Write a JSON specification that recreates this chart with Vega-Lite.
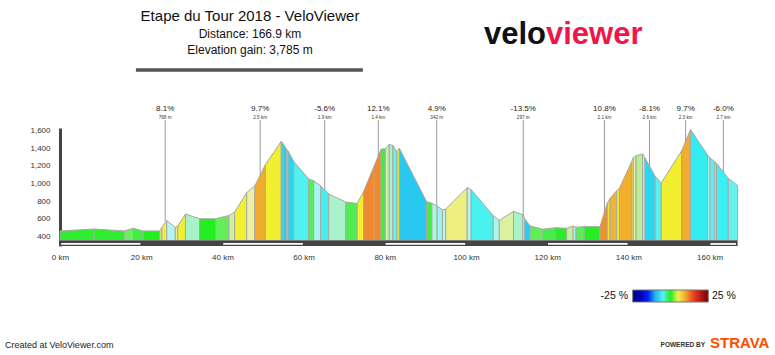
{
  "$schema": "https://vega.github.io/schema/vega-lite/v6.json",
  "width": 677.6,
  "height": 117.9,
  "autosize": "none",
  "padding": {"left": 60, "top": 128, "right": 37.4, "bottom": 109.1},
  "background": "white",
  "config": {
    "font": "Liberation Sans",
    "view": {"stroke": null},
    "legend": {"padding": 0, "offset": 0}
  },
  "resolve": {"axis": {"x": "independent", "y": "independent"}},
  "datasets": {
    "profile": [
      {"seg":1,"km":0,"elev":460,"grade":0.2},{"seg":1,"km":8.4,"elev":482,"grade":0.2},
      {"seg":2,"km":8.4,"elev":482,"grade":-0.2},{"seg":2,"km":15.8,"elev":460,"grade":-0.2},
      {"seg":3,"km":15.8,"elev":460,"grade":1.3},{"seg":3,"km":18.1,"elev":490,"grade":1.3},
      {"seg":4,"km":18.1,"elev":490,"grade":-0.5},{"seg":4,"km":20.5,"elev":460,"grade":-0.5},
      {"seg":5,"km":20.5,"elev":460,"grade":0},{"seg":5,"km":24.6,"elev":460,"grade":0},
      {"seg":6,"km":24.6,"elev":460,"grade":3.3},{"seg":6,"km":25.1,"elev":502,"grade":3.3},
      {"seg":7,"km":25.1,"elev":502,"grade":6.5},{"seg":7,"km":26.3,"elev":577,"grade":6.5},
      {"seg":8,"km":26.3,"elev":577,"grade":-3},{"seg":8,"km":28.4,"elev":502,"grade":-3},
      {"seg":9,"km":28.4,"elev":502,"grade":4.2},{"seg":9,"km":29.0,"elev":517,"grade":4.2},
      {"seg":10,"km":29.0,"elev":517,"grade":6.5},{"seg":10,"km":30.9,"elev":652,"grade":6.5},
      {"seg":11,"km":30.9,"elev":652,"grade":-1.8},{"seg":11,"km":34.4,"elev":600,"grade":-1.8},
      {"seg":12,"km":34.4,"elev":600,"grade":0},{"seg":12,"km":38.3,"elev":598,"grade":0},
      {"seg":13,"km":38.3,"elev":598,"grade":1.1},{"seg":13,"km":41.6,"elev":636,"grade":1.1},
      {"seg":14,"km":41.6,"elev":636,"grade":2.6},{"seg":14,"km":43.0,"elev":674,"grade":2.6},
      {"seg":15,"km":43.0,"elev":674,"grade":7},{"seg":15,"km":46.0,"elev":897,"grade":7},
      {"seg":16,"km":46.0,"elev":897,"grade":3.8},{"seg":16,"km":48.0,"elev":973,"grade":3.8},
      {"seg":17,"km":48.0,"elev":973,"grade":9.7},{"seg":17,"km":50.6,"elev":1214,"grade":9.7},
      {"seg":18,"km":50.6,"elev":1214,"grade":6.6},{"seg":18,"km":54.5,"elev":1479,"grade":6.6},
      {"seg":19,"km":54.5,"elev":1479,"grade":-7},{"seg":19,"km":55.0,"elev":1448,"grade":-7},
      {"seg":20,"km":55.0,"elev":1448,"grade":-9},{"seg":20,"km":55.8,"elev":1388,"grade":-9},
      {"seg":21,"km":55.8,"elev":1388,"grade":-4},{"seg":21,"km":56.2,"elev":1369,"grade":-4},
      {"seg":22,"km":56.2,"elev":1369,"grade":-8},{"seg":22,"km":57.6,"elev":1247,"grade":-8},
      {"seg":23,"km":57.6,"elev":1247,"grade":-5.2},{"seg":23,"km":61.3,"elev":1049,"grade":-5.2},
      {"seg":24,"km":61.3,"elev":1049,"grade":-0.8},{"seg":24,"km":62.5,"elev":1030,"grade":-0.8},
      {"seg":25,"km":62.5,"elev":1030,"grade":-3.3},{"seg":25,"km":64.2,"elev":973,"grade":-3.3},
      {"seg":26,"km":64.2,"elev":973,"grade":-5.6},{"seg":26,"km":66.2,"elev":880,"grade":-5.6},
      {"seg":27,"km":66.2,"elev":880,"grade":-1.9},{"seg":27,"km":70.4,"elev":788,"grade":-1.9},
      {"seg":28,"km":70.4,"elev":788,"grade":-0.7},{"seg":28,"km":73.2,"elev":772,"grade":-0.7},
      {"seg":29,"km":73.2,"elev":772,"grade":5.8},{"seg":29,"km":74.8,"elev":910,"grade":5.8},
      {"seg":30,"km":74.8,"elev":910,"grade":12.1},{"seg":30,"km":77.3,"elev":1190,"grade":12.1},
      {"seg":31,"km":77.3,"elev":1190,"grade":11.8},{"seg":31,"km":79.1,"elev":1390,"grade":11.8},
      {"seg":32,"km":79.1,"elev":1390,"grade":0.4},{"seg":32,"km":80.1,"elev":1395,"grade":0.4},
      {"seg":33,"km":80.1,"elev":1395,"grade":2.5},{"seg":33,"km":81.1,"elev":1444,"grade":2.5},
      {"seg":34,"km":81.1,"elev":1444,"grade":-1.8},{"seg":34,"km":82.0,"elev":1430,"grade":-1.8},
      {"seg":35,"km":82.0,"elev":1430,"grade":-4.5},{"seg":35,"km":83.0,"elev":1361,"grade":-4.5},
      {"seg":36,"km":83.0,"elev":1361,"grade":6},{"seg":36,"km":83.6,"elev":1399,"grade":6},
      {"seg":37,"km":83.6,"elev":1399,"grade":-9.2},{"seg":37,"km":90.3,"elev":793,"grade":-9.2},
      {"seg":38,"km":90.3,"elev":793,"grade":-0.5},{"seg":38,"km":91.6,"elev":775,"grade":-0.5},
      {"seg":39,"km":91.6,"elev":775,"grade":-2.5},{"seg":39,"km":92.9,"elev":744,"grade":-2.5},
      {"seg":40,"km":92.9,"elev":744,"grade":-3.5},{"seg":40,"km":94.2,"elev":700,"grade":-3.5},
      {"seg":41,"km":94.2,"elev":700,"grade":-3},{"seg":41,"km":95.0,"elev":708,"grade":-3},
      {"seg":42,"km":95.0,"elev":708,"grade":4.3},{"seg":42,"km":100.3,"elev":954,"grade":4.3},
      {"seg":43,"km":100.3,"elev":954,"grade":-3},{"seg":43,"km":101.3,"elev":928,"grade":-3},
      {"seg":44,"km":101.3,"elev":928,"grade":-5.4},{"seg":44,"km":106.7,"elev":634,"grade":-5.4},
      {"seg":45,"km":106.7,"elev":634,"grade":-3.2},{"seg":45,"km":108.2,"elev":580,"grade":-3.2},
      {"seg":46,"km":108.2,"elev":580,"grade":3.2},{"seg":46,"km":111.7,"elev":683,"grade":3.2},
      {"seg":47,"km":111.7,"elev":683,"grade":-1.8},{"seg":47,"km":114.0,"elev":645,"grade":-1.8},
      {"seg":48,"km":114.0,"elev":645,"grade":-3},{"seg":48,"km":114.5,"elev":595,"grade":-3},
      {"seg":49,"km":114.5,"elev":595,"grade":-9},{"seg":49,"km":115.8,"elev":517,"grade":-9},
      {"seg":50,"km":115.8,"elev":517,"grade":1},{"seg":50,"km":119.0,"elev":480,"grade":1},
      {"seg":51,"km":119.0,"elev":480,"grade":0.6},{"seg":51,"km":122.1,"elev":497,"grade":0.6},
      {"seg":52,"km":122.1,"elev":497,"grade":0.1},{"seg":52,"km":124.8,"elev":490,"grade":0.1},
      {"seg":53,"km":124.8,"elev":490,"grade":2.4},{"seg":53,"km":126.4,"elev":516,"grade":2.4},
      {"seg":54,"km":126.4,"elev":516,"grade":-3},{"seg":54,"km":127.1,"elev":502,"grade":-3},
      {"seg":55,"km":127.1,"elev":502,"grade":0.9},{"seg":55,"km":129.1,"elev":509,"grade":0.9},
      {"seg":56,"km":129.1,"elev":509,"grade":0},{"seg":56,"km":133.0,"elev":509,"grade":0},
      {"seg":57,"km":133.0,"elev":509,"grade":11.5},{"seg":57,"km":134.8,"elev":775,"grade":11.5},
      {"seg":58,"km":134.8,"elev":775,"grade":8},{"seg":58,"km":135.5,"elev":831,"grade":8},
      {"seg":59,"km":135.5,"elev":831,"grade":9.3},{"seg":59,"km":137.1,"elev":918,"grade":9.3},
      {"seg":60,"km":137.1,"elev":918,"grade":7.5},{"seg":60,"km":137.8,"elev":945,"grade":7.5},
      {"seg":61,"km":137.8,"elev":945,"grade":9.6},{"seg":61,"km":140.8,"elev":1247,"grade":9.6},
      {"seg":62,"km":140.8,"elev":1247,"grade":6.5},{"seg":62,"km":141.2,"elev":1293,"grade":6.5},
      {"seg":63,"km":141.2,"elev":1293,"grade":3.5},{"seg":63,"km":141.9,"elev":1315,"grade":3.5},
      {"seg":64,"km":141.9,"elev":1315,"grade":2.3},{"seg":64,"km":143.5,"elev":1335,"grade":2.3},
      {"seg":65,"km":143.5,"elev":1335,"grade":-3},{"seg":65,"km":144.1,"elev":1290,"grade":-3},
      {"seg":66,"km":144.1,"elev":1290,"grade":-8.1},{"seg":66,"km":146.6,"elev":1080,"grade":-8.1},
      {"seg":67,"km":146.6,"elev":1080,"grade":-5},{"seg":67,"km":148.1,"elev":1005,"grade":-5},
      {"seg":68,"km":148.1,"elev":1005,"grade":6.8},{"seg":68,"km":153.1,"elev":1370,"grade":6.8},
      {"seg":69,"km":153.1,"elev":1370,"grade":9.7},{"seg":69,"km":155.3,"elev":1612,"grade":9.7},
      {"seg":70,"km":155.3,"elev":1612,"grade":-6.2},{"seg":70,"km":159.5,"elev":1323,"grade":-6.2},
      {"seg":71,"km":159.5,"elev":1323,"grade":-3.2},{"seg":71,"km":160.1,"elev":1290,"grade":-3.2},
      {"seg":72,"km":160.1,"elev":1290,"grade":-5},{"seg":72,"km":161.3,"elev":1247,"grade":-5},
      {"seg":73,"km":161.3,"elev":1247,"grade":-3.8},{"seg":73,"km":161.7,"elev":1229,"grade":-3.8},
      {"seg":74,"km":161.7,"elev":1229,"grade":-5.8},{"seg":74,"km":164.6,"elev":1059,"grade":-5.8},
      {"seg":75,"km":164.6,"elev":1059,"grade":-4.6},{"seg":75,"km":166.9,"elev":975,"grade":-4.6}
    ],
    "notes": [
      {"km":25.9,"elev":566,"label":"8.1%","len":"768 m"},
      {"km":49.3,"elev":1092,"label":"9.7%","len":"2.5 km"},
      {"km":65.2,"elev":926,"label":"-5.6%","len":"1.9 km"},
      {"km":78.4,"elev":1312,"label":"12.1%","len":"1.4 km"},
      {"km":92.8,"elev":747,"label":"4.9%","len":"342 m"},
      {"km":114.1,"elev":640,"label":"-13.5%","len":"297 m"},
      {"km":134.1,"elev":671,"label":"10.8%","len":"2.1 km"},
      {"km":145.2,"elev":1198,"label":"-8.1%","len":"2.6 km"},
      {"km":154.1,"elev":1480,"label":"9.7%","len":"2.3 km"},
      {"km":163.4,"elev":1129,"label":"-6.0%","len":"2.7 km"}
    ],
    "route": [{"from":0,"to":166.9}],
    "stripes": [
      {"from":0.3,"to":19.8},{"from":40.2,"to":59.8},{"from":80.2,"to":99.8},
      {"from":120.2,"to":139.8},{"from":160.2,"to":166.5}
    ]
  },
  "layer": [
    {
      "data": {"name": "profile"},
      "mark": {"type": "area", "stroke": "#a8a8a8", "strokeWidth": 1},
      "encoding": {
        "x": {"field": "km", "type": "quantitative",
          "scale": {"domain": [0, 166.9], "nice": false, "zero": false},
          "axis": {"values": [0,20,40,60,80,100,120,140,160], "labelExpr": "datum.value + ' km'",
            "title": null, "domain": false, "ticks": false, "grid": false, "labelPadding": 8,
            "labelFontSize": 8, "labelColor": "#333", "labelFlush": false}},
        "y": {"field": "elev", "type": "quantitative", "stack": null,
          "scale": {"domain": [290, 1630], "nice": false, "zero": false},
          "axis": {"values": [400,600,800,1000,1200,1400,1600], "format": ",.0f", "title": null,
            "grid": false, "ticks": false, "tickSize": 0, "labelPadding": 10, "labelFontSize": 8,
            "labelColor": "#333", "domainColor": "#444", "domainWidth": 3, "labelFlush": false}},
        "y2": {"datum": 350},
        "detail": {"field": "seg", "type": "nominal"},
        "color": {"field": "grade", "type": "quantitative",
          "scale": {"type": "linear", "interpolate": "rgb",
            "domain": [-25,-16,-11,-9,-7.5,-6,-4.5,-3,-1.8,-0.8,0,0.8,1.5,2.5,3.8,5.5,7.5,9.2,11,12.5,16,25],
            "range": ["#00007a","#0000f0","#1a9cf0","#29cdf0","#22ddee","#33f0f0","#6af2ee","#b5f5f0","#a8f2c8","#55ee55","#22ee22","#55ee55","#77ee66","#c8f2a0","#eef0a0","#f2ee30","#f2ee30","#f2b530","#f09828","#f08030","#ee2a20","#7a0000"]},
          "legend": {"orient": "none", "legendX": 572.7, "legendY": 162, "direction": "horizontal",
            "title": null, "gradientLength": 75.6, "gradientThickness": 12,
            "gradientStrokeColor": "#777", "gradientStrokeWidth": 1,
            "values": [-25, 25], "labelExpr": "''", "labelOpacity": 0}}
      }
    },
    {
      "data": {"name": "route"},
      "mark": {"type": "rect", "color": "#444"},
      "encoding": {
        "x": {"field": "from", "type": "quantitative", "axis": null},
        "x2": {"field": "to"},
        "y": {"datum": 350, "type": "quantitative", "axis": null},
        "y2": {"datum": 290}
      }
    },
    {
      "data": {"name": "stripes"},
      "mark": {"type": "rect", "color": "white"},
      "encoding": {
        "x": {"field": "from", "type": "quantitative", "axis": null},
        "x2": {"field": "to"},
        "y": {"datum": 322, "type": "quantitative", "axis": null},
        "y2": {"datum": 302}
      }
    },
    {
      "data": {"name": "notes"},
      "mark": {"type": "rule", "color": "#9a9a9a", "strokeWidth": 1},
      "encoding": {
        "x": {"field": "km", "type": "quantitative", "axis": null},
        "y": {"field": "elev", "type": "quantitative", "axis": null},
        "y2": {"datum": 1721}
      }
    },
    {
      "data": {"name": "notes"},
      "mark": {"type": "text", "fontSize": 8, "color": "#222", "baseline": "middle"},
      "encoding": {
        "x": {"field": "km", "type": "quantitative", "axis": null},
        "y": {"datum": 1842, "type": "quantitative", "axis": null},
        "text": {"field": "label", "type": "nominal"}
      }
    },
    {
      "data": {"name": "notes"},
      "mark": {"type": "text", "fontSize": 4.6, "color": "#333", "baseline": "middle"},
      "encoding": {
        "x": {"field": "km", "type": "quantitative", "axis": null},
        "y": {"datum": 1747, "type": "quantitative", "axis": null},
        "text": {"field": "len", "type": "nominal"}
      }
    },
    {
      "data": {"values": [{"t": "Etape du Tour 2018 - VeloViewer"}]},
      "mark": {"type": "text", "fontSize": 15, "color": "#111", "baseline": "middle"},
      "encoding": {"x": {"datum": 46.8, "type": "quantitative", "axis": null}, "y": {"datum": 2903, "type": "quantitative", "axis": null}, "text": {"field": "t", "type": "nominal"}}
    },
    {
      "data": {"values": [{"t": "Distance: 166.9 km"}]},
      "mark": {"type": "text", "fontSize": 12, "color": "#111", "baseline": "middle"},
      "encoding": {"x": {"datum": 46.8, "type": "quantitative", "axis": null}, "y": {"datum": 2693, "type": "quantitative", "axis": null}, "text": {"field": "t", "type": "nominal"}}
    },
    {
      "data": {"values": [{"t": "Elevation gain: 3,785 m"}]},
      "mark": {"type": "text", "fontSize": 12, "color": "#111", "baseline": "middle"},
      "encoding": {"x": {"datum": 46.8, "type": "quantitative", "axis": null}, "y": {"datum": 2516, "type": "quantitative", "axis": null}, "text": {"field": "t", "type": "nominal"}}
    },
    {
      "data": {"values": [{"from": 18.7, "to": 74.6}]},
      "mark": {"type": "rule", "color": "#555", "strokeWidth": 3.3},
      "encoding": {"x": {"field": "from", "type": "quantitative", "axis": null}, "x2": {"field": "to"}, "y": {"datum": 2289, "type": "quantitative", "axis": null}}
    },
    {
      "data": {"values": [{"t": "velo"}]},
      "mark": {"type": "text", "fontSize": 31, "fontWeight": "bold", "color": "#111", "align": "right", "baseline": "alphabetic"},
      "encoding": {"x": {"datum": 119.7, "type": "quantitative", "axis": null}, "y": {"datum": 2581, "type": "quantitative", "axis": null}, "text": {"field": "t", "type": "nominal"}}
    },
    {
      "data": {"values": [{"t": "viewer"}]},
      "mark": {"type": "text", "fontSize": 31, "fontWeight": "bold", "color": "#f0164a", "align": "left", "baseline": "alphabetic"},
      "encoding": {"x": {"datum": 119.7, "type": "quantitative", "axis": null}, "y": {"datum": 2581, "type": "quantitative", "axis": null}, "text": {"field": "t", "type": "nominal"}}
    },
    {
      "data": {"values": [{"t": "-25 %"}]},
      "mark": {"type": "text", "fontSize": 10.5, "color": "#111", "align": "right", "baseline": "middle"},
      "encoding": {"x": {"datum": 139.9, "type": "quantitative", "axis": null}, "y": {"datum": -279, "type": "quantitative", "axis": null}, "text": {"field": "t", "type": "nominal"}}
    },
    {
      "data": {"values": [{"t": "25 %"}]},
      "mark": {"type": "text", "fontSize": 10.5, "color": "#111", "align": "left", "baseline": "middle"},
      "encoding": {"x": {"datum": 160.6, "type": "quantitative", "axis": null}, "y": {"datum": -279, "type": "quantitative", "axis": null}, "text": {"field": "t", "type": "nominal"}}
    },
    {
      "data": {"values": [{"t": "Created at VeloViewer.com"}]},
      "mark": {"type": "text", "fontSize": 9, "color": "#222", "align": "left", "baseline": "middle"},
      "encoding": {"x": {"datum": -13.55, "type": "quantitative", "axis": null}, "y": {"datum": -836, "type": "quantitative", "axis": null}, "text": {"field": "t", "type": "nominal"}}
    },
    {
      "data": {"values": [{"t": "POWERED BY"}]},
      "mark": {"type": "text", "fontSize": 6.5, "fontWeight": "bold", "color": "#333", "align": "right", "baseline": "middle"},
      "encoding": {"x": {"datum": 158.87, "type": "quantitative", "axis": null}, "y": {"datum": -842, "type": "quantitative", "axis": null}, "text": {"field": "t", "type": "nominal"}}
    },
    {
      "data": {"values": [{"t": "STRAVA"}]},
      "mark": {"type": "text", "fontSize": 15, "fontWeight": "bold", "color": "#fc4c02", "align": "left", "baseline": "middle"},
      "encoding": {"x": {"datum": 160.1, "type": "quantitative", "axis": null}, "y": {"datum": -813, "type": "quantitative", "axis": null}, "text": {"field": "t", "type": "nominal"}}
    }
  ]
}
